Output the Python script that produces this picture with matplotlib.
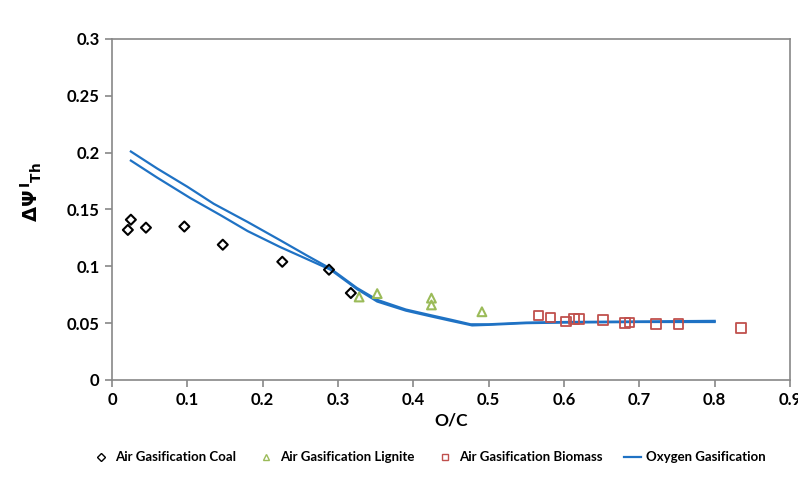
import matplotlib.pyplot as plt
from matplotlib.lines import Line2D

plt.rcParams['font.family'] = ['Lato', 'DejaVu Sans']

# Air gasification data points
coal_x = [0.021, 0.025, 0.045, 0.096, 0.147, 0.226, 0.288, 0.317]
coal_y = [0.132, 0.141, 0.134, 0.135, 0.119, 0.104, 0.097, 0.0765]

lignite_x = [0.328, 0.352, 0.424, 0.424, 0.491]
lignite_y = [0.073, 0.076, 0.072, 0.066, 0.060]

biomass_x = [0.566, 0.582, 0.603, 0.613, 0.620, 0.652, 0.681, 0.687, 0.722, 0.752, 0.835]
biomass_y = [0.0566, 0.0548, 0.0513, 0.0537, 0.0534, 0.0525, 0.0499, 0.0507, 0.0495, 0.0493, 0.0455]

# Oxygen gasification curves (two runs)
oxy1_x = [0.025, 0.06, 0.10, 0.135, 0.18, 0.223, 0.26, 0.29, 0.325, 0.352,
          0.39, 0.423, 0.45, 0.476, 0.50, 0.55, 0.60, 0.70, 0.80]
oxy1_y = [0.201, 0.186, 0.170, 0.155, 0.139, 0.123, 0.109, 0.098, 0.081, 0.0705,
          0.062, 0.057, 0.053, 0.049, 0.049, 0.0505, 0.051, 0.0515, 0.052]

oxy2_x = [0.025, 0.06, 0.104, 0.144, 0.18, 0.223, 0.26, 0.29, 0.325, 0.352,
          0.39, 0.423, 0.45, 0.478, 0.50, 0.55, 0.60, 0.70, 0.80]
oxy2_y = [0.193, 0.178, 0.160, 0.145, 0.131, 0.117, 0.106, 0.097, 0.080, 0.069,
          0.061, 0.056, 0.052, 0.048, 0.0485, 0.050, 0.0505, 0.051, 0.051]

x_ticks = [0, 0.1, 0.2, 0.3, 0.4, 0.5, 0.6, 0.7, 0.8, 0.9]
y_ticks = [0, 0.05, 0.1, 0.15, 0.2, 0.25, 0.3]

blue = "#1f72c4"
green = "#9bbb59"
red = "#c0504d"

fig = plt.figure(figsize=(7.98, 4.83), dpi=100)
ax = fig.add_axes([0.1404, 0.2133, 0.8496, 0.706])

ax.plot(oxy1_x, oxy1_y, color=blue, lw=1.6)
ax.plot(oxy2_x, oxy2_y, color=blue, lw=1.6)

ax.scatter(coal_x, coal_y, marker="D", s=26, facecolors="none",
           edgecolors="black", linewidths=1.5, zorder=3)
ax.scatter(lignite_x, lignite_y, marker="^", s=40, facecolors="none",
           edgecolors=green, linewidths=1.5, zorder=3)
ax.scatter(biomass_x, biomass_y, marker="s", s=48, facecolors="none",
           edgecolors=red, linewidths=1.3, zorder=3)

ax.set_xlim(0, 0.9)
ax.set_ylim(0, 0.3)
ax.set_xticks(x_ticks)
ax.set_yticks(y_ticks)
ax.set_xticklabels([f"{t:g}" for t in x_ticks], fontsize=12, fontweight="bold")
ax.set_yticklabels([f"{t:g}" for t in y_ticks], fontsize=12, fontweight="bold")

for s in ax.spines.values():
    s.set_color("#888888")
    s.set_linewidth(1.2)
ax.tick_params(direction="out", length=5, color="#888888", width=1.2, pad=4)

ax.set_xlabel("O/C", fontsize=12.5, fontweight="bold", labelpad=3)
ax.set_ylabel(r"$\mathbf{\Delta\Psi^{\,I}{}_{Th}}$", fontsize=14)
ax.yaxis.set_label_coords(-0.1, 0.55)

handles = [
    Line2D([], [], ls="none", marker="D", ms=4, mfc="none", mec="black", mew=1),
    Line2D([], [], ls="none", marker="^", ms=5, mfc="none", mec=green, mew=1),
    Line2D([], [], ls="none", marker="s", ms=5, mfc="none", mec=red, mew=1),
    Line2D([], [], color=blue, lw=1.6),
]
labels = ["Air Gasification Coal", "Air Gasification Lignite",
          "Air Gasification Biomass", "Oxygen Gasification"]
fig.legend(handles, labels, loc="center", bbox_to_anchor=(0.538, 0.053),
           ncol=4, frameon=False, handlelength=1.3, handletextpad=0.4,
           columnspacing=1.65, prop={"size": 9.5, "weight": "bold"})

fig.savefig("out.png", dpi=100)
